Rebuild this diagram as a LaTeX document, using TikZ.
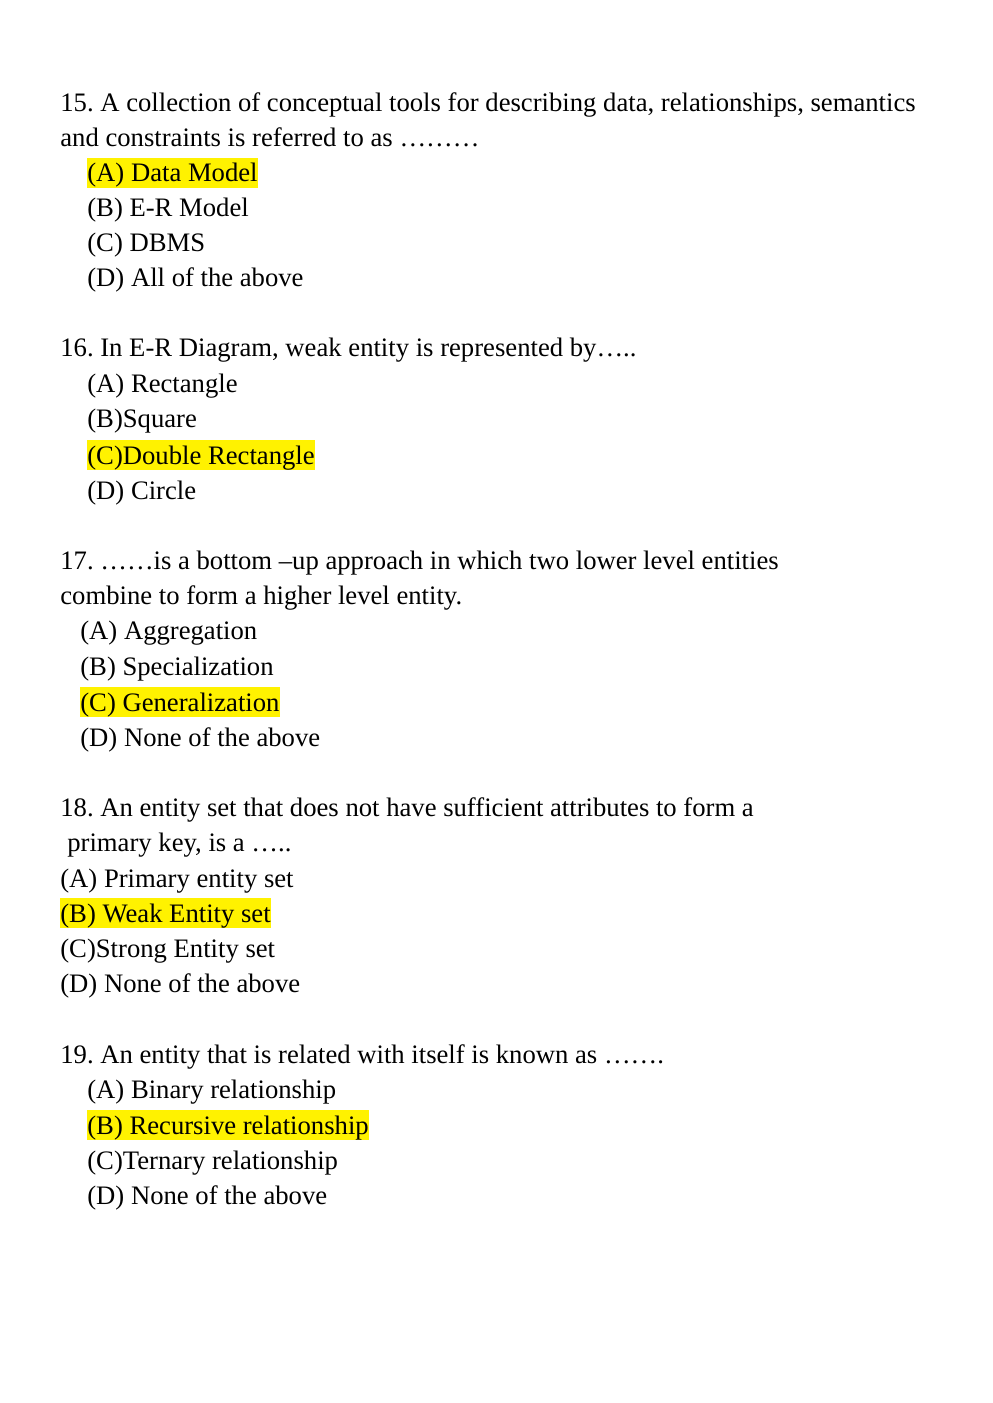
\documentclass[tikz,border=0pt]{standalone}
\usepackage{fontspec}
\setmainfont{Liberation Serif}
\frenchspacing
\begin{document}
\begin{tikzpicture}[x=0.6pt,y=-0.6pt,
    line/.style={anchor=base west, inner sep=0pt, font=\fontsize{16pt}{21pt}\selectfont},
    hl/.style={line, fill=yellow, text height=14.4pt, text depth=3.6pt}]
        \useasboundingbox (0,0) rectangle (992,1403);

        % Question 15
        \node[line] (q15) at (60,112) {15. A collection of conceptual tools for describing data, relationships, semantics};
        \node[line] (q15l) at (60,147) {and constraints is referred to as ………};
        \node[hl] (q15a) at (87,182) {(A) Data Model};
        \node[line] (q15b) at (87,217) {(B) E-R Model};
        \node[line] (q15c) at (87,252) {(C) DBMS};
        \node[line] (q15d) at (87,287) {(D) All of the above};

        % Question 16
        \node[line] (q16) at (60,357) {16. In E-R Diagram, weak entity is represented by…..};
        \node[line] (q16a) at (87,393) {(A) Rectangle};
        \node[line] (q16b) at (87,428) {(B)Square};
        \node[hl] (q16c) at (87,464) {(C)Double Rectangle};
        \node[line] (q16d) at (87,499) {(D) Circle};

        % Question 17
        \node[line] (q17) at (60,569) {17. ……is a bottom –up approach in which two lower level entities};
        \node[line] (q17l) at (60,604) {combine to form a higher level entity.};
        \node[line] (q17a) at (80,639) {(A) Aggregation};
        \node[line] (q17b) at (80,675) {(B) Specialization};
        \node[hl] (q17c) at (80,711) {(C) Generalization};
        \node[line] (q17d) at (80,746) {(D) None of the above};

        % Question 18
        \node[line] (q18) at (60,816) {18. An entity set that does not have sufficient attributes to form a};
        \node[line] (q18l) at (67,851) {primary key, is a …..};
        \node[line] (q18a) at (60,887) {(A) Primary entity set};
        \node[hl] (q18b) at (60,922) {(B) Weak Entity set};
        \node[line] (q18c) at (60,957) {(C)Strong Entity set};
        \node[line] (q18d) at (60,992) {(D) None of the above};

        % Question 19
        \node[line] (q19) at (60,1063) {19. An entity that is related with itself is known as …….};
        \node[line] (q19a) at (87,1098) {(A) Binary relationship};
        \node[hl] (q19b) at (87,1134) {(B) Recursive relationship};
        \node[line] (q19c) at (87,1169) {(C)Ternary relationship};
        \node[line] (q19d) at (87,1204) {(D) None of the above};
      \end{tikzpicture}
\end{document}
